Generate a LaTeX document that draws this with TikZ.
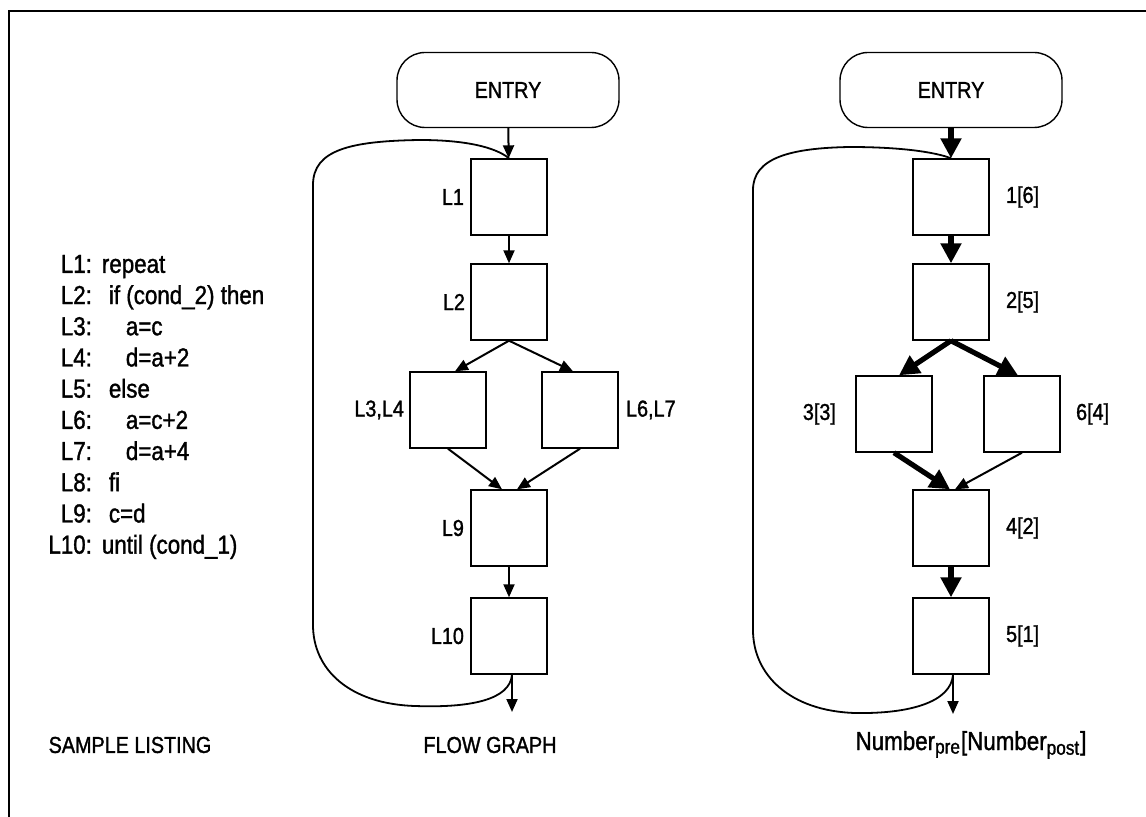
\documentclass[tikz,border=0pt]{standalone}
\usepackage{fontspec}
\setmainfont{Liberation Sans}[FakeStretch=0.86, FakeBold=1.3]
\usetikzlibrary{arrows.meta,positioning}

\tikzset{
  blk/.style={draw, line width=0.7pt, minimum size=38pt, inner sep=0pt},
  entry/.style={draw, line width=0.7pt, rounded corners=14pt, minimum width=111pt, minimum height=37.5pt, inner sep=0pt, font=\fontsize{11.5}{13}\selectfont},
  lbl/.style={inner sep=0pt},
  thinarr/.style={line width=1pt, -{Triangle[length=6.5pt,width=5.5pt]}},
  heavyarr/.style={line width=2.6pt, -{Triangle[length=10pt,width=10pt]}},
  backedge/.style={line width=0.9pt},
}

\begin{document}
\begin{tikzpicture}[x=0.5pt, y=-0.5pt, font=\fontsize{11.5}{13}\selectfont]
		\useasboundingbox (0,0) rectangle (1146,817);
		
		% Frame
		\draw[line width=0.75pt] (9,817) -- (9,11) -- (1146,11);
		
		% Sample listing
		\node[anchor=west, inner sep=0pt] (listing) at (48,407) {\fontsize{13}{15.6}\selectfont
		\begin{tabular}{@{}r@{:\hspace{5pt}}l@{}}
		L1 & repeat\\
		L2 & \hspace{3.5pt}if (cond\_2) then\\
		L3 & \hspace{12pt}a=c\\
		L4 & \hspace{12pt}d=a+2\\
		L5 & \hspace{3.5pt}else\\
		L6 & \hspace{12pt}a=c+2\\
		L7 & \hspace{12pt}d=a+4\\
		L8 & \hspace{3.5pt}fi\\
		L9 & \hspace{3.5pt}c=d\\
		L10 & until (cond\_1)
		\end{tabular}};
		
		% Flow graph: blocks
		\node[entry] (e1) at (508,90) {ENTRY};
		\node[blk] (b1) at (509,197) {};
		\node[blk] (b2) at (509,302) {};
		\node[blk] (b3) at (448,410) {};
		\node[blk] (b4) at (580,410) {};
		\node[blk] (b5) at (509,528) {};
		\node[blk] (b6) at (509,636) {};
		\coordinate (x1) at (512,712);
		
		% Flow graph: labels
		\node[lbl, left=3pt of b1] (l1) {L1};
		\node[lbl, left=2.5pt of b2] (l2) {L2};
		\node[lbl, left=2.5pt of b3] (l3) {L3,L4};
		\node[lbl, right=3.5pt of b4] (l6) {L6,L7};
		\node[lbl, left=3pt of b5] (l9) {L9};
		\node[lbl, left=3pt of b6] (l10) {L10};
		
		% Flow graph: edges
		\draw[thinarr] (e1) -- (b1);
		\draw[thinarr] (b1) -- (b2);
		\draw[thinarr] (b2.south) -- ([xshift=3.5pt]b3.north);
		\draw[thinarr] (b2.south) -- ([xshift=-3.5pt]b4.north);
		\draw[thinarr] (b3.south) -- ([xshift=-3.5pt]b5.north);
		\draw[thinarr] (b4.south) -- ([xshift=4pt]b5.north);
		\draw[thinarr] (b5) -- (b6);
		\draw[thinarr] ([xshift=1.5pt]b6.south) -- (x1);
		\draw[backedge] ([xshift=1.5pt]b6.south) .. controls (510,700) and (470,708) .. (415,706)
		  .. controls (350,704) and (313,670) .. (313,625) -- (313,185)
		  .. controls (313,150) and (350,141) .. (420,140)
		  .. controls (465,140) and (495,147) .. (b1.north);
		
		% Numbering: blocks
		\node[entry] (e2) at (951,90) {ENTRY};
		\node[blk] (c1) at (951,197) {};
		\node[blk] (c2) at (951,302) {};
		\node[blk] (c3) at (894,414) {};
		\node[blk] (c4) at (1022,414) {};
		\node[blk] (c5) at (951,528) {};
		\node[blk] (c6) at (951,636) {};
		\coordinate (x2) at (953,714);
		
		% Numbering: labels
		\node[lbl, right=8pt of c1] (n1) {1[6]};
		\node[lbl, right=8pt of c2] (n2) {2[5]};
		\node[lbl, left=9.5pt of c3] (n3) {3[3]};
		\node[lbl, right=7.5pt of c4] (n6) {6[4]};
		\node[lbl, right=8pt of c5] (n4) {4[2]};
		\node[lbl, right=8pt of c6] (n5) {5[1]};
		
		% Numbering: edges
		\draw[heavyarr] (e2) -- (c1);
		\draw[heavyarr] (c1) -- (c2);
		\draw[heavyarr] (c2.south) -- ([xshift=2.5pt]c3.north);
		\draw[heavyarr] (c2.south) -- ([xshift=-2pt]c4.north);
		\draw[heavyarr] (c3.south) -- ([xshift=-0.5pt]c5.north);
		\draw[thinarr] (c4.south) -- ([xshift=2pt]c5.north);
		\draw[heavyarr] (c5) -- (c6);
		\draw[thinarr] ([xshift=1pt]c6.south) -- (x2);
		\draw[backedge] ([xshift=1pt]c6.south) .. controls (951,702) and (910,714) .. (855,713)
		  .. controls (790,711) and (753,675) .. (753,630) -- (753,190)
		  .. controls (753,158) and (790,148) .. (850,147)
		  .. controls (900,147) and (935,152) .. (c1.north);
		
		% Captions
		\node (cap1) at (130,745) {SAMPLE LISTING};
		\node (cap2) at (490,745) {FLOW GRAPH};
		\node[font=\fontsize{13}{15}\selectfont] (cap3) at (971,745) {Number\textsubscript{\fontsize{10}{11}\selectfont pre}[Number\textsubscript{\fontsize{10}{11}\selectfont post}]};
		
	\end{tikzpicture}
\end{document}
